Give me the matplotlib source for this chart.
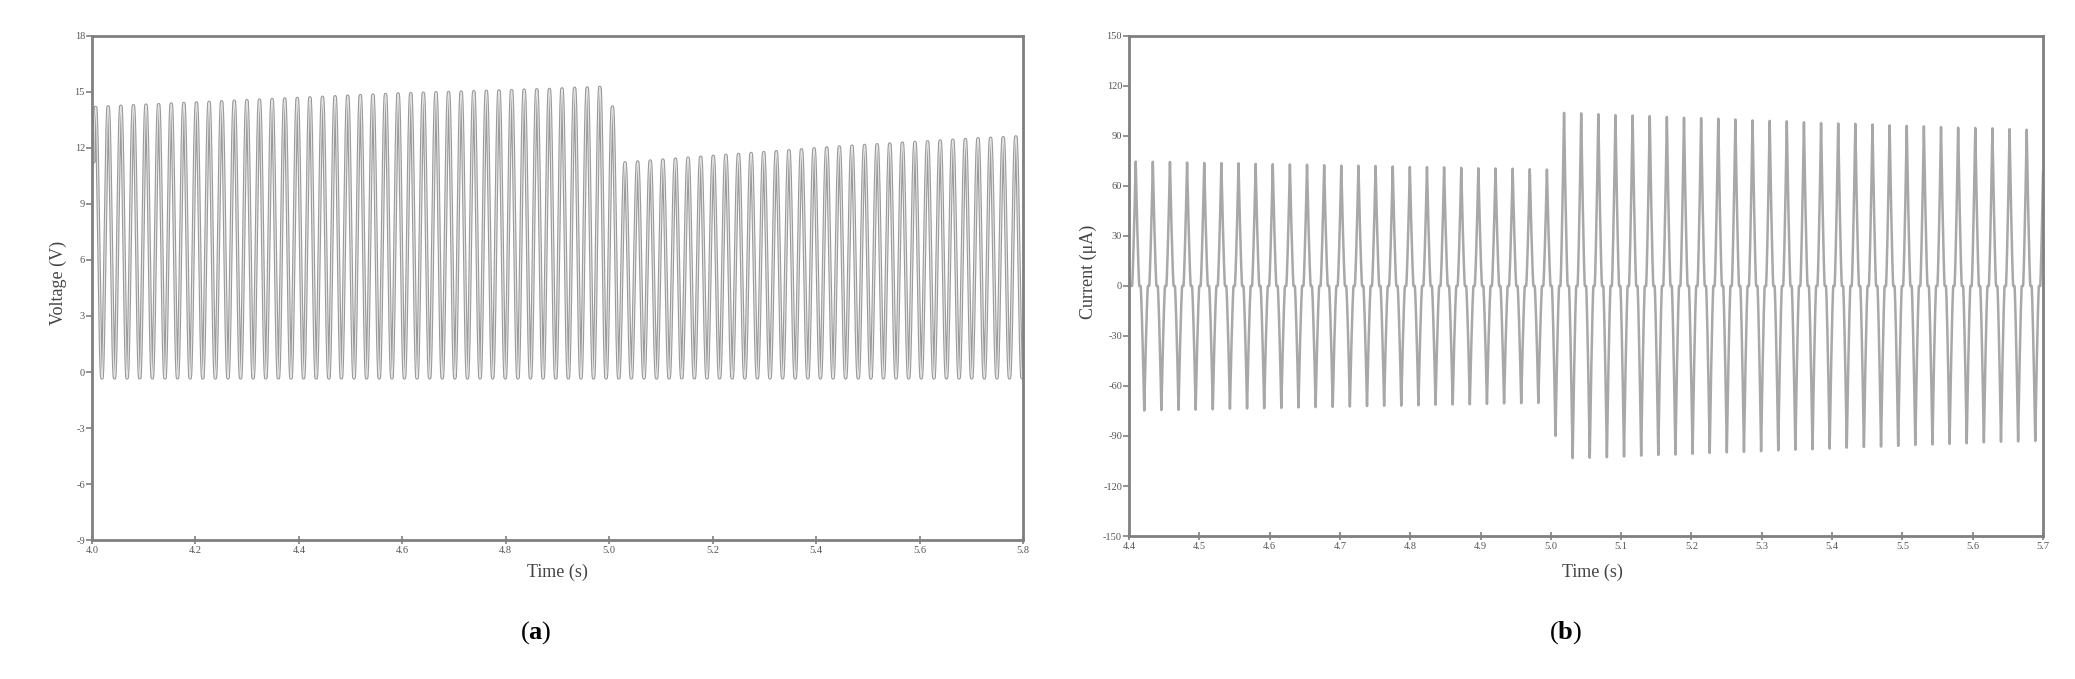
import numpy as np
import matplotlib
matplotlib.use("Agg")
import matplotlib.pyplot as plt

plt.rcParams['font.family'] = ['Liberation Serif', 'DejaVu Serif']
plt.rcParams['mathtext.fontset'] = 'custom'
plt.rcParams['mathtext.rm'] = 'Liberation Serif'
plt.rcParams['mathtext.bf'] = 'Liberation Serif:bold'
plt.rcParams['axes.unicode_minus'] = False

# ---- data ----
period = 0.02437          # s, one oscillation (both panels)

# (a) voltage: time of first crest, crest value of every cycle, trough level
v_first_peak = 4.0071
v_peaks = [14.18, 14.21, 14.24, 14.27, 14.30, 14.33, 14.36, 14.39, 14.42, 14.45,
           14.48, 14.51, 14.54, 14.57, 14.60, 14.63, 14.66, 14.69, 14.72, 14.75,
           14.78, 14.81, 14.84, 14.87, 14.90,
           14.92, 14.94, 14.96, 14.98, 15.00, 15.02, 15.04, 15.06, 15.08, 15.10,
           15.12, 15.14, 15.17, 15.20, 15.22, 15.25,
           14.20,
           11.21, 11.26, 11.31, 11.36, 11.41, 11.46, 11.51, 11.56, 11.61, 11.66,
           11.71, 11.76, 11.81, 11.86, 11.91, 11.96, 12.01, 12.06,
           12.10, 12.14, 12.18, 12.22, 12.26, 12.30, 12.34, 12.38, 12.42, 12.46,
           12.50, 12.53, 12.56, 12.60]
v_trough = -0.32
v_start = 12.8            # value at t = 4.0, trace starts mid-rise

# (b) current: time of first positive spike, positive and negative spike heights
i_first_peak = 4.4095
i_pos = [74.8, 74.6, 74.4, 74.2, 74.0, 73.8, 73.6, 73.4, 73.2, 73.0,
         72.8, 72.6, 72.4, 72.2, 72.0, 71.8, 71.6, 71.4, 71.2, 71.0,
         70.8, 70.6, 70.4, 70.2, 70.0,
         104.0, 103.6, 103.2, 102.8, 102.4, 102.0, 101.6, 101.2, 100.8, 100.4,
         100.0, 99.6, 99.2, 98.8, 98.4, 98.0, 97.6, 97.3, 97.0, 96.6,
         96.2, 95.8, 95.5, 95.2, 94.9, 94.6, 94.3, 94.0, 93.7]
i_neg = [-74.8, -74.6, -74.4, -74.2, -74.0, -73.8, -73.6, -73.4, -73.2, -73.0,
         -72.8, -72.6, -72.4, -72.2, -72.0, -71.8, -71.6, -71.4, -71.2, -71.0,
         -70.8, -70.6, -70.4, -70.2,
         -90.0,
         -103.5, -103.2, -102.8, -102.4, -102.0, -101.6, -101.2, -100.8, -100.4, -100.0,
         -99.6, -99.2, -98.8, -98.4, -98.0, -97.6, -97.2, -96.8, -96.4, -96.0,
         -95.6, -95.2, -94.8, -94.4, -94.0, -93.6, -93.3, -93.0, -92.7]

v_xticks = [4.0, 4.2, 4.4, 4.6, 4.8, 5.0, 5.2, 5.4, 5.6, 5.8]
v_yticks = [-9, -6, -3, 0, 3, 6, 9, 12, 15, 18]
i_xticks = [4.4, 4.5, 4.6, 4.7, 4.8, 4.9, 5.0, 5.1, 5.2, 5.3, 5.4, 5.5, 5.6, 5.7]
i_yticks = [-150, -120, -90, -60, -30, 0, 30, 60, 90, 120, 150]


def voltage_trace():
    t = np.linspace(4.0, 5.8, 60000)
    v = np.full_like(t, v_trough)
    for k, p in enumerate(v_peaks + [v_peaks[-1]]):
        tk = v_first_peak + k * period
        m = np.abs(t - tk) <= period / 2
        v[m] = v_trough + (p - v_trough) * (1 + np.cos(2 * np.pi * (t[m] - tk) / period)) / 2
    # first few samples: rising edge from the start value into the first crest
    m = t < 4.0035
    v[m] = np.linspace(v_start, v[m][-1], m.sum())
    return t, v


def current_trace():
    t = np.linspace(4.4, 5.7, 60000)
    i = np.zeros_like(t)
    w = 0.21 * period
    for k in range(len(i_pos)):
        tk = i_first_peak + k * period
        m = np.abs(t - tk) < w
        i[m] += i_pos[k] * (1 - np.abs(t[m] - tk) / w) ** 1.3
        if k < len(i_neg):
            tn = tk + period / 2
            m = np.abs(t - tn) < w
            i[m] += i_neg[k] * (1 - np.abs(t[m] - tn) / w) ** 1.3
    return t, i


def style_axes(ax):
    for s in ax.spines.values():
        s.set_color('#808080')
        s.set_linewidth(2)
    ax.tick_params(axis='y', direction='out', length=4, width=1.2, color='#808080',
                   labelsize=7.5, labelcolor='#555555', pad=1)
    ax.tick_params(axis='x', direction='inout', length=6, width=1.2, color='#808080',
                   labelsize=7.5, labelcolor='#555555', pad=1)


fig = plt.figure(figsize=(20.75, 6.79), dpi=100)

ax1 = fig.add_axes([0.0443, 0.2047, 0.4487, 0.7423])
t, v = voltage_trace()
ax1.plot(t, v, color='#9a9a9a', lw=2.4)
ax1.plot(t, v, color='#e4e4e4', lw=0.8)
ax1.set_xlim(4.0, 5.8)
ax1.set_ylim(-9, 18)
ax1.set_xticks(v_xticks)
ax1.set_xticklabels([f"{x:.1f}" for x in v_xticks])
ax1.set_yticks(v_yticks)
style_axes(ax1)

ax2 = fig.add_axes([0.5441, 0.2106, 0.4405, 0.7364])
t, i = current_trace()
ax2.plot(t, i, color='#a8a8a8', lw=1.8)
ax2.set_xlim(4.4, 5.7)
ax2.set_ylim(-150, 150)
ax2.set_xticks(i_xticks)
ax2.set_xticklabels([f"{x:.1f}" for x in i_xticks])
ax2.set_yticks(i_yticks)
style_axes(ax2)

fig.text(0.2685, 0.1576, "Time (s)", ha='center', va='center', fontsize=13, color='#444444')
fig.text(0.7675, 0.1576, "Time (s)", ha='center', va='center', fontsize=13, color='#444444')
fig.text(0.028, 0.583, "Voltage (V)", ha='center', va='center', rotation=90,
         fontsize=13, color='#444444')
fig.text(0.5243, 0.599, "Current (\u03bcA)", ha='center', va='center', rotation=90,
         fontsize=13, color='#444444')
fig.text(0.2583, 0.069, r"($\mathbf{a}$)", ha='center', va='center', fontsize=19)
fig.text(0.7547, 0.069, r"($\mathbf{b}$)", ha='center', va='center', fontsize=19)

fig.savefig("out.png", dpi=100)
